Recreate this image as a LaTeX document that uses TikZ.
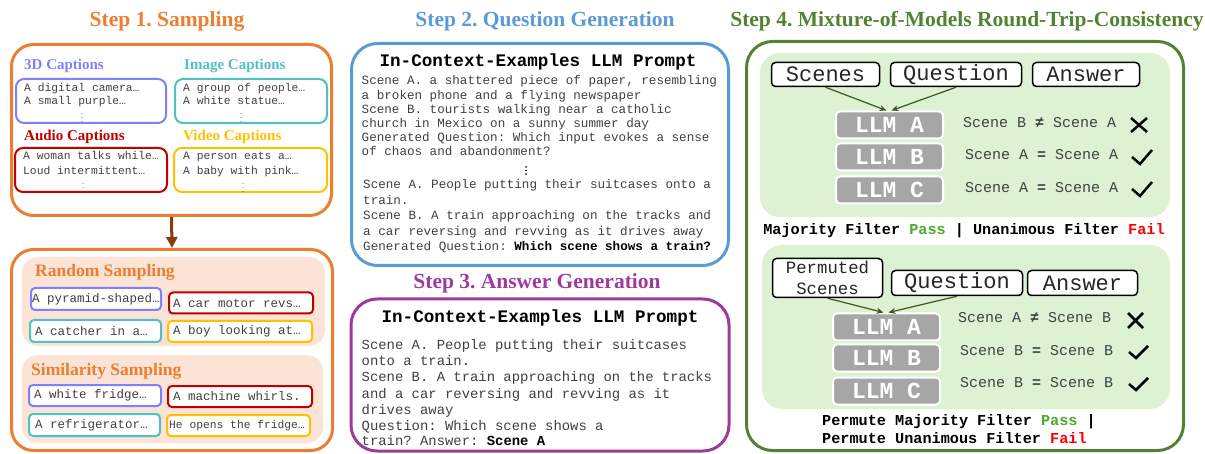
\documentclass[tikz,border=0pt]{standalone}
\usepackage{fontspec}
\setmainfont{Liberation Serif}
\setmonofont{Liberation Mono}
\usetikzlibrary{arrows.meta,positioning}
\frenchspacing

\definecolor{sampOrange}{HTML}{ED7D31}
\definecolor{capBlue}{HTML}{8080FF}
\definecolor{capTeal}{HTML}{4FC1C1}
\definecolor{capRed}{HTML}{C00000}
\definecolor{capGold}{HTML}{FFC000}
\definecolor{qgBlue}{HTML}{5B9BD5}
\definecolor{agPurple}{HTML}{9E3A9E}
\definecolor{rtGreen}{HTML}{548235}
\definecolor{panelGreen}{HTML}{DDF2D3}
\definecolor{panelPeach}{HTML}{FBE3D6}
\definecolor{arrowGreen}{HTML}{385723}
\definecolor{arrowBrown}{HTML}{843C0C}
\definecolor{llmGray}{HTML}{A6A6A6}
\definecolor{passGreen}{HTML}{4EA72E}
\definecolor{bodyGray}{HTML}{404040}

\tikzset{
  frame/.style={draw, line width=3pt, rounded corners=22pt, inner sep=0pt},
  panel/.style={rounded corners=16pt, inner sep=0pt},
  capbox/.style={draw, line width=2pt, rounded corners=8pt, inner sep=0pt},
  poolbox/.style={draw, fill=white, line width=2pt, rounded corners=4pt, inner sep=0pt},
  title/.style={font=\fontsize{21.5}{24}\selectfont\bfseries},
  caplabel/.style={font=\fontsize{15}{18}\selectfont\bfseries, anchor=west, inner sep=0pt},
  poollabel/.style={font=\fontsize{17.5}{20}\selectfont\bfseries, text=sampOrange, anchor=west, inner sep=0pt},
  captext/.style={font=\ttfamily\fontsize{11.3}{13}\selectfont, text=bodyGray, anchor=base west, inner sep=0pt},
  pooltext/.style={font=\ttfamily\fontsize{12.5}{14}\selectfont, text=bodyGray, anchor=west, inner sep=0pt},
  dots/.style={font=\fontsize{8}{8}\selectfont, text=bodyGray, inner sep=0pt},
  header/.style={font=\ttfamily\bfseries\fontsize{17.6}{20}\selectfont, anchor=base, inner sep=0pt},
  prompt/.style={font=\ttfamily\fontsize{12.6}{14.2}\selectfont, text=bodyGray, align=left, anchor=base west, inner sep=0pt},
  namebox/.style={draw, fill=white, line width=1.5pt, rounded corners=4pt, inner sep=0pt, font=\ttfamily\fontsize{22}{22}\selectfont, text=black!85},
  llm/.style={draw=white, fill=llmGray, line width=2pt, rounded corners=4pt, inner sep=0pt, minimum width=107pt, minimum height=27pt, font=\ttfamily\bfseries\fontsize{23}{23}\selectfont, text=white},
  verdict/.style={font=\ttfamily\fontsize{15}{15}\selectfont, text=bodyGray, anchor=west, inner sep=0pt},
  filter/.style={font=\ttfamily\bfseries\fontsize{15.2}{18}\selectfont, inner sep=0pt},
  feed/.style={-{Stealth[length=7pt,width=6pt]}, draw=arrowGreen, line width=1.2pt},
  okmark/.style={line width=2.5pt},
  nomark/.style={line width=2.5pt},
}

\begin{document}
\begin{tikzpicture}[x=1pt,y=-1pt]
\useasboundingbox (0,0) rectangle (1205,454);

% Step 1: sampling
\node[title, text=sampOrange] (t1) at (167,21) {Step 1. Sampling};
\node[frame, draw=sampOrange, minimum width=320pt, minimum height=171pt] (samp) at (171.5,130) {};

\node[caplabel, text=capBlue] (l3d) at (24,66) {3D Captions};
\node[caplabel, text=capTeal] (limg) at (184,66) {Image Captions};
\node[caplabel, text=capRed] (laud) at (24,137) {Audio Captions};
\node[caplabel, text=capGold] (lvid) at (183,137) {Video Captions};

\node[capbox, draw=capBlue, minimum width=150pt, minimum height=44pt] (cap3d) at (91,101) {};
\node[capbox, draw=capTeal, minimum width=152pt, minimum height=44pt] (capimg) at (251,101) {};
\node[capbox, draw=capRed, minimum width=152pt, minimum height=44pt] (capaud) at (91,170) {};
\node[capbox, draw=capGold, minimum width=153pt, minimum height=44pt] (capvid) at (250.5,170) {};

\node[captext] (c3a) at (24,92) {A digital camera…};
\node[captext] (c3b) at (24,105) {A small purple…};
\node[dots] (c3d) at (82,115) {$\vdots$};
\node[captext] (cia) at (183,92) {A group of people…};
\node[captext] (cib) at (183,105) {A white statue…};
\node[dots] (cid) at (241,115) {$\vdots$};
\node[captext] (caa) at (23,160) {A woman talks while…};
\node[captext] (cab) at (23,175) {Loud intermittent…};
\node[dots] (cad) at (83,185) {$\vdots$};
\node[captext] (cva) at (183,160) {A person eats a…};
\node[captext] (cvb) at (183,175) {A baby with pink…};
\node[dots] (cvd) at (243,185) {$\vdots$};

\node[frame, draw=sampOrange, minimum width=321pt, minimum height=201pt] (pool) at (172,350) {};
\draw[-{Triangle[length=11pt,width=11pt]}, draw=arrowBrown, line width=3pt] (samp.south) -- (pool.north);

\node[panel, fill=panelPeach, minimum width=303pt, minimum height=89pt] (rand) at (173.5,301.5) {};
\node[poollabel] (lrand) at (35,272) {Random Sampling};
\node[poolbox, draw=capBlue, minimum width=130pt, minimum height=22pt] (rsA) at (96,299) {};
\node[poolbox, draw=capRed, minimum width=144pt, minimum height=21pt] (rsB) at (241,303) {};
\node[poolbox, draw=capTeal, minimum width=131pt, minimum height=22pt] (rsC) at (95.5,331) {};
\node[poolbox, draw=capGold, minimum width=144pt, minimum height=21pt] (rsD) at (240,331.5) {};
\node[pooltext, right=2pt of rsA.west] (trsA) {A pyramid-shaped…};
\node[pooltext, right=5pt of rsB.west] (trsB) {A car motor revs…};
\node[pooltext, right=6pt of rsC.west] (trsC) {A catcher in a…};
\node[pooltext, right=6pt of rsD.west] (trsD) {A boy looking at…};

\node[panel, fill=panelPeach, minimum width=301pt, minimum height=88pt] (simi) at (172.5,399) {};
\node[poollabel] (lsimi) at (31,371) {Similarity Sampling};
\node[poolbox, draw=capBlue, minimum width=132pt, minimum height=21pt] (ssA) at (95,395.5) {};
\node[poolbox, draw=capRed, minimum width=144pt, minimum height=21pt] (ssB) at (240,396.5) {};
\node[poolbox, draw=capTeal, minimum width=131pt, minimum height=22pt] (ssC) at (94.5,425) {};
\node[poolbox, draw=capGold, minimum width=143pt, minimum height=21pt] (ssD) at (238.5,425.5) {};
\node[pooltext, right=6pt of ssA.west] (tssA) {A white fridge…};
\node[pooltext, right=6pt of ssB.west] (tssB) {A machine whirls.};
\node[pooltext, right=7pt of ssC.west] (tssC) {A refrigerator…};
\node[pooltext, font=\ttfamily\fontsize{11.3}{13}\selectfont, right=3pt of ssD.west] (tssD) {He opens the fridge…};

% Step 2: question generation
\node[title, text=qgBlue] (t2) at (545,21) {Step 2. Question Generation};
\node[frame, draw=qgBlue, rounded corners=26pt, minimum width=377pt, minimum height=222pt] (qg) at (540,154.5) {};
\node[header] (qghead) at (538,67) {In-Context-Examples LLM Prompt};
% base of a multi-line node = last line
\node[prompt] (qgex) at (361.5,156) {Scene A. a shattered piece of paper, resembling\\a broken phone and a flying newspaper\\Scene B. tourists walking near a catholic\\church in Mexico on a sunny summer day\\Generated Question: Which input evokes a sense\\of chaos and abandonment?};
\node[coordinate] (qgdots) at (526,170.5) {};
\foreach \d in {-3.6,0,3.6}
  \fill (qgdots) ++(0,\d) circle (0.9pt);
\node[prompt, font=\ttfamily\fontsize{12.6}{15.4}\selectfont] (qgnew) at (363,250.5) {Scene A. People putting their suitcases onto a\\train.\\Scene B. A train approaching on the tracks and\\a car reversing and revving as it drives away\\Generated Question: \textcolor{black}{\textbf{Which scene shows a train?}}};

% Step 3: answer generation
\node[title, text=agPurple] (t3) at (537,283) {Step 3. Answer Generation};
\node[frame, draw=agPurple, rounded corners=26pt, minimum width=378pt, minimum height=152pt] (ag) at (540,375) {};
\node[header] (aghead) at (540,323) {In-Context-Examples LLM Prompt};
\node[prompt, font=\ttfamily\fontsize{13.9}{16.3}\selectfont] (agex) at (361.5,445) {Scene A. People putting their suitcases\\onto a train.\\Scene B. A train approaching on the tracks\\and a car reversing and revving as it\\drives away\\Question: Which scene shows a\\[-2pt]train? Answer: \textcolor{black}{\textbf{Scene A}}};

% Step 4: round-trip consistency
\node[title, text=rtGreen] (t4) at (967,21) {Step 4. Mixture-of-Models Round-Trip-Consistency};
\node[frame, draw=rtGreen, rounded corners=26pt, minimum width=437pt, minimum height=409pt] (rt) at (965,246) {};

\node[panel, fill=panelGreen, rounded corners=20pt, minimum width=410pt, minimum height=164pt] (orig) at (965,135) {};
\node[namebox, minimum width=108pt, minimum height=24pt] (scA) at (825.5,74.5) {Scenes};
\node[namebox, minimum width=131pt, minimum height=24pt] (qsA) at (956,74.5) {Question};
\node[namebox, minimum width=107pt, minimum height=24pt] (anA) at (1086,74.5) {Answer};
\node[llm] (llmA1) at (889.5,125) {LLM A};
\node[llm] (llmB1) at (889.5,157) {LLM B};
\node[llm] (llmC1) at (889.5,190) {LLM C};
\draw[feed] (scA.south) -- ([xshift=-3pt]llmA1.north);
\draw[feed] (qsA.south) -- ([xshift=2pt]llmA1.north);
\node[verdict] (vA1) at (963,123) {Scene B \textbf{≠} Scene A};
\node[verdict] (vB1) at (965,155) {Scene A \textbf{=} Scene A};
\node[verdict] (vC1) at (965,188) {Scene A \textbf{=} Scene A};
\draw[nomark] (1131,118) -- (1147,132) (1131,132) -- (1147,118);
\draw[okmark] (1132,157) -- (1140,164) -- (1152,150);
\draw[okmark] (1132,189) -- (1140,196) -- (1152,182);
\node[filter, anchor=base] (maj) at (964,235) {Majority Filter \textcolor{passGreen}{Pass} | Unanimous Filter \textcolor{red}{Fail}};

\node[panel, fill=panelGreen, rounded corners=20pt, minimum width=408pt, minimum height=164pt] (perm) at (966,327) {};
\node[namebox, align=center, font=\ttfamily\fontsize{17.3}{21}\selectfont, minimum width=110pt, minimum height=39pt] (psB) at (827.5,278) {Permuted\\Scenes};
\node[namebox, minimum width=131pt, minimum height=25pt] (qsB) at (957,283) {Question};
\node[namebox, minimum width=110pt, minimum height=25pt] (anB) at (1082.5,283) {Answer};
\node[llm] (llmA2) at (886.5,327) {LLM A};
\node[llm] (llmB2) at (886.5,358) {LLM B};
\node[llm] (llmC2) at (886.5,391) {LLM C};
\draw[feed] (psB.south) -- ([xshift=-3pt]llmA2.north);
\draw[feed] (qsB.south) -- ([xshift=2pt]llmA2.north);
\node[verdict] (vA2) at (958,318) {Scene A \textbf{≠} Scene B};
\node[verdict] (vB2) at (960,351) {Scene B \textbf{=} Scene B};
\node[verdict] (vC2) at (960,383) {Scene B \textbf{=} Scene B};
\draw[nomark] (1128,313) -- (1143,328) (1128,328) -- (1143,313);
\draw[okmark] (1129,352) -- (1136,358) -- (1148,346);
\draw[okmark] (1129,384) -- (1136,390) -- (1148,378);
\node[filter, anchor=base west] (pmaj) at (822,425) {Permute Majority Filter \textcolor{passGreen}{Pass} |};
\node[filter, anchor=base west] (puna) at (822,443) {Permute Unanimous Filter \textcolor{red}{Fail}};

\end{tikzpicture}
\end{document}
